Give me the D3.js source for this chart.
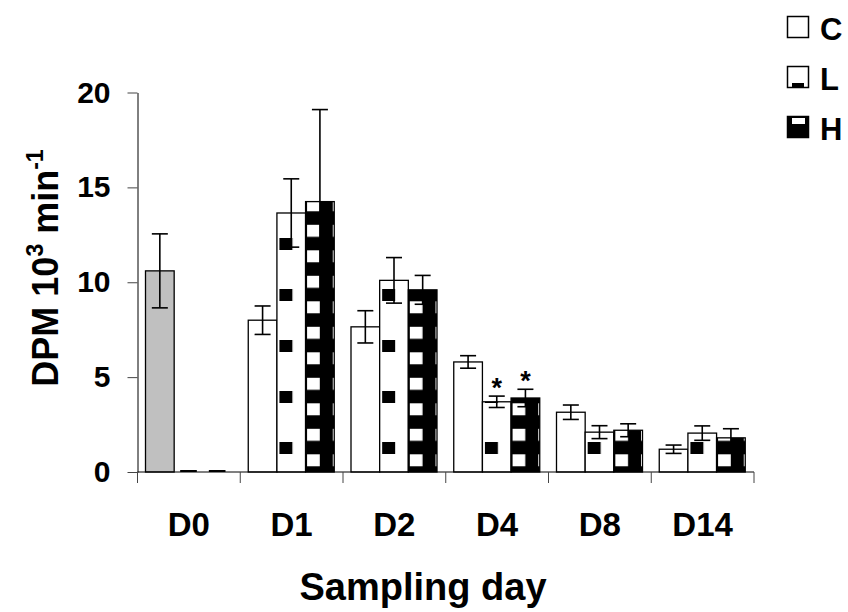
<!DOCTYPE html>
<html><head><meta charset="utf-8">
<script src="https://cdn.jsdelivr.net/npm/d3@7"></script>
<style>
body{margin:0;background:#fff}
svg{display:block}
text{font-family:"Liberation Sans",Arial,sans-serif;font-weight:bold;fill:#000}
</style>
</head><body>
<svg id="c" width="848" height="612"></svg>
<script>
const days = ["D0","D1","D2","D4","D8","D14"];
const series = ["C","L","H"];
const valuesC = [10.6, 8.0, 7.65, 5.8, 3.15, 1.2];
const valuesL = [0, 13.65, 10.1, 3.7, 2.1, 2.05];
const valuesH = [0, 14.25, 9.6, 3.9, 2.2, 1.8];
const errC = [1.95, 0.75, 0.85, 0.33, 0.38, 0.22];
const errL = [0, 1.8, 1.2, 0.3, 0.34, 0.38];
const errH = [0, 4.85, 0.76, 0.46, 0.34, 0.48];
const significant = [["D4","L"],["D4","H"]];
const yTicks = [0, 5, 10, 15, 20];
const legendLabels = ["C","L","H"];
const xTitle = "Sampling day";

const svg = d3.select("#c");
const y = d3.scaleLinear().domain([0, 20]).range([472, 92.5]);
const x0 = d3.scaleBand().domain(days).range([137.5, 754]);
const x1 = d3.scaleBand().domain(series).range([8, 8 + 86]);
const bw = x1.bandwidth();

// patterns
const defs = svg.append("defs");
const pL = defs.append("pattern").attr("id","patL").attr("patternUnits","userSpaceOnUse")
  .attr("x", x0("D1") + x1("L") + 2.5).attr("y", y(0) - 30)
  .attr("width", x0.bandwidth()/2).attr("height", 51);
pL.append("rect").attr("width", x0.bandwidth()/2).attr("height", 51).attr("fill","#fff");
pL.append("rect").attr("width", 13).attr("height", 12).attr("fill","#000");
const pH = defs.append("pattern").attr("id","patH").attr("patternUnits","userSpaceOnUse")
  .attr("x", x0("D1") + x1("H") + 1.5).attr("y", y(0) - 17.7)
  .attr("width", x0.bandwidth()/4).attr("height", 25.5);
pH.append("rect").attr("width", x0.bandwidth()/4).attr("height", 25.5).attr("fill","#000");
pH.append("rect").attr("width", 12.7).attr("height", 12).attr("fill","#fff");

const table = [];
days.forEach((d, i) => {
  table.push({day:d, s:"C", v:valuesC[i], e:errC[i]});
  table.push({day:d, s:"L", v:valuesL[i], e:errL[i]});
  table.push({day:d, s:"H", v:valuesH[i], e:errH[i]});
});
const fillOf = r => r.s === "C" ? (r.day === "D0" ? "#c0c0c0" : "#fff") : (r.s === "L" ? "url(#patL)" : "url(#patH)");

// bars
const bars = svg.append("g");
table.filter(r => r.v > 0).forEach(r => {
  bars.append("rect")
    .attr("x", x0(r.day) + x1(r.s)).attr("y", y(r.v))
    .attr("width", bw).attr("height", y(0) - y(r.v))
    .attr("fill", fillOf(r)).attr("stroke", "#000").attr("stroke-width", 1.3);
});
table.filter(r => r.v === 0).forEach(r => {
  bars.append("line")
    .attr("x1", x0(r.day) + x1(r.s) + 6).attr("x2", x0(r.day) + x1(r.s) + bw - 6)
    .attr("y1", y(0) - 1).attr("y2", y(0) - 1)
    .attr("stroke", "#000").attr("stroke-width", 2);
});

// error bars
const eb = svg.append("g").attr("stroke","#000").attr("stroke-width",1.6);
table.filter(r => r.e > 0).forEach(r => {
  const cx = x0(r.day) + x1(r.s) + bw/2;
  eb.append("line").attr("x1",cx).attr("x2",cx).attr("y1",y(r.v + r.e)).attr("y2",y(r.v - r.e));
  eb.append("line").attr("x1",cx-8).attr("x2",cx+8).attr("y1",y(r.v + r.e)).attr("y2",y(r.v + r.e));
  eb.append("line").attr("x1",cx-8).attr("x2",cx+8).attr("y1",y(r.v - r.e)).attr("y2",y(r.v - r.e));
});

// significance stars
significant.forEach(([d, s]) => {
  const r = table.find(t => t.day === d && t.s === s);
  svg.append("text").attr("x", x0(d) + x1(s) + bw/2).attr("y", y(r.v + r.e) + 1)
    .attr("text-anchor","middle").style("font-size","27px").text("*");
});

// y axis
const ya = svg.append("g").attr("transform", `translate(${x0.range()[0]},0)`)
  .call(d3.axisLeft(y).tickValues(yTicks).tickSize(10).tickSizeOuter(0).tickPadding(17));
ya.select(".domain").attr("stroke","#000");
ya.selectAll(".tick line").attr("stroke","#444");
ya.selectAll(".tick text").style("font-size","30px").style("font-family",null);

// x axis line + boundary ticks
const xa = svg.append("g");
xa.append("line").attr("x1", x0.range()[0]).attr("x2", x0.range()[1]).attr("y1", y(0)).attr("y2", y(0)).attr("stroke","#000");
const bounds = days.map(d => x0(d)).concat([x0.range()[1]]);
bounds.forEach(bx => {
  xa.append("line").attr("x1", bx).attr("x2", bx).attr("y1", y(0)).attr("y2", y(0) + 11).attr("stroke", "#444");
});
const xl = svg.append("g").attr("transform", `translate(0,${y(0)})`)
  .call(d3.axisBottom(x0).tickSize(0).tickPadding(41));
xl.select(".domain").remove();
xl.selectAll(".tick text").style("font-size","33px").style("font-family",null);

// axis titles
svg.append("text").attr("x", 423).attr("y", 600).attr("text-anchor","middle").style("font-size","38px").text(xTitle);
const yt = svg.append("text").attr("transform","rotate(-90)").attr("x", -268).attr("y", 58)
  .attr("text-anchor","middle").style("font-size","36px");
yt.append("tspan").text("DPM 10");
yt.append("tspan").style("font-size","23px").attr("dy", -15).text("3");
yt.append("tspan").attr("dy", 15).text(" min");
yt.append("tspan").style("font-size","23px").attr("dy", -15).text("-1");

// legend
const lg = svg.append("g").attr("transform","translate(787,16)");
legendLabels.forEach((lab, i) => {
  const g = lg.append("g").attr("transform", `translate(0,${i*50})`);
  g.append("rect").attr("x",0.5).attr("y",0.5).attr("width",21).attr("height",21)
    .attr("fill", i === 2 ? "#000" : "#fff").attr("stroke","#000").attr("stroke-width",1.5);
  if (i === 1) g.append("rect").attr("x",5).attr("y",17).attr("width",12).attr("height",4).attr("fill","#000");
  if (i === 2) g.append("rect").attr("x",5).attr("y",2).attr("width",13).attr("height",6).attr("fill","#fff");
  g.append("text").attr("x",33).attr("y",24).style("font-size","31px").text(lab);
});
</script>
</body></html>
